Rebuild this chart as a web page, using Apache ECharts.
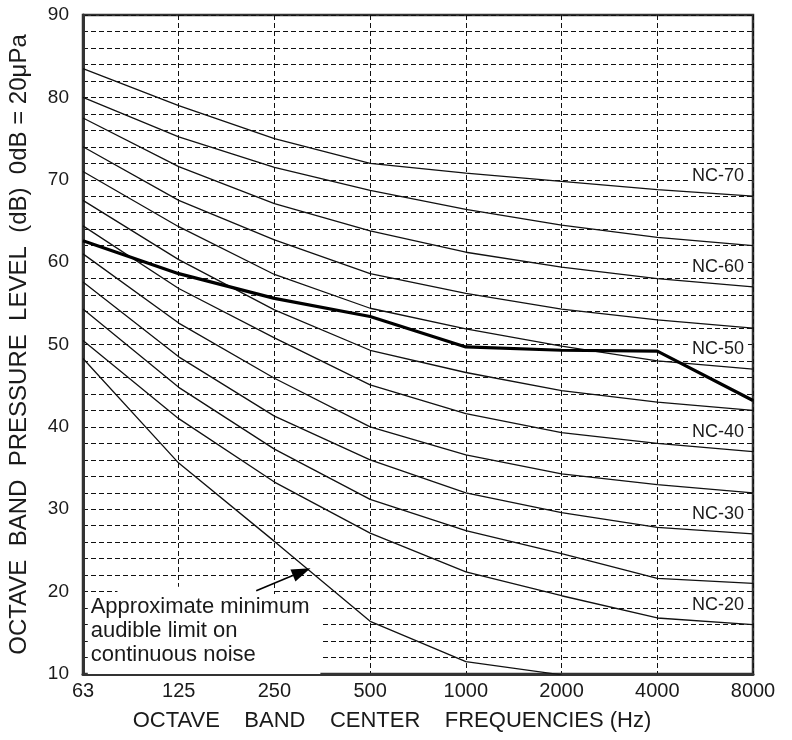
<!DOCTYPE html>
<html><head><meta charset="utf-8">
<script src="https://cdn.jsdelivr.net/npm/echarts@6/dist/echarts.min.js"></script>
<style>html,body{margin:0;padding:0;background:#fff}#c{width:792px;height:740px}</style>
</head><body><div id="c"></div>
<script>
// ---- data ----
const freqLabels = ['63','125','250','500','1000','2000','4000','8000'];
const nc70 = [83.5, 79.0, 75.0, 72.0, 70.8, 69.8, 68.8, 68.0];
const nc65 = [80.0, 75.2, 71.5, 68.7, 66.4, 64.5, 63.0, 62.0];
const nc60 = [77.5, 71.6, 67.1, 63.8, 61.2, 59.4, 58.0, 57.0];
const nc55 = [74.0, 67.5, 62.7, 58.6, 56.2, 54.3, 53.0, 52.0];
const nc50 = [71.0, 64.3, 58.5, 54.4, 51.9, 49.8, 48.0, 47.0];
const nc45 = [67.5, 60.3, 54.2, 49.3, 46.6, 44.4, 43.0, 42.0];
const nc40 = [64.4, 56.8, 50.8, 45.1, 41.6, 39.3, 38.0, 37.0];
const nc35 = [61.0, 52.6, 45.9, 40.0, 36.6, 34.3, 33.0, 32.0];
const nc30 = [57.6, 48.5, 41.3, 36.0, 32.0, 29.6, 27.8, 27.0];
const nc25 = [54.3, 44.8, 37.3, 31.2, 27.4, 24.6, 21.6, 21.0];
const nc20 = [50.5, 41.0, 33.3, 27.1, 22.4, 19.5, 16.8, 16.0];
const audible = [48.3, 35.6, 26.1, 16.4, 11.5, 9.9];
const measured = [62.6, 58.6, 55.6, 53.4, 49.7, 49.3, 49.2, 43.2];
const curveNames = ['NC-70','NC-65','NC-60','NC-55','NC-50','NC-45','NC-40','NC-35','NC-30','NC-25','NC-20'];
const curveValues = [nc70, nc65, nc60, nc55, nc50, nc45, nc40, nc35, nc30, nc25, nc20];
const labelledCurves = ['NC-70','NC-60','NC-50','NC-40','NC-30','NC-20'];
const noteLines = ['Approximate minimum', 'audible limit on', 'continuous noise'];
const arrowFrom = [1.81, 20.1];
const arrowTo = [2.285, 22.4];

const FONT = '"Liberation Sans", Arial, Helvetica, sans-serif';
const chart = echarts.init(document.getElementById('c'), null, {renderer: 'canvas'});

function pairs(vals) { return vals.map((v, i) => [i, v]); }

const series = curveValues.map((vals, k) => {
  const name = curveNames[k];
  const lab = labelledCurves.includes(name);
  const data = pairs(vals).map((p, i) => {
    if (lab && i === vals.length - 1) {
      return {value: p, label: {show: true, formatter: name, position: 'left', distance: 5,
        offset: [0, -20], fontSize: 18, fontFamily: FONT, color: '#1a1a1a',
        backgroundColor: '#fff', padding: [1, 4, 1, 4]}};
    }
    return p;
  });
  return {type: 'line', name, data, symbol: 'circle', symbolSize: 0.1, showSymbol: true,
    lineStyle: {color: '#111', width: 1.3}, itemStyle: {color: '#111'}, z: 3, silent: true};
});
series.push({type: 'line', name: 'audible', data: pairs(audible), symbol: 'none', clip: true,
  lineStyle: {color: '#111', width: 1.3}, z: 3, silent: true,
  markLine: {silent: true, symbol: ['none', 'triangle'], symbolSize: [13, 19],
    lineStyle: {color: '#000', width: 1.6, type: 'solid'}, label: {show: false},
    data: [[{coord: arrowFrom}, {coord: arrowTo}]]}});
series.push({type: 'line', name: 'measured', data: pairs(measured), symbol: 'none',
  lineStyle: {color: '#000', width: 3.2}, z: 4, silent: true});

const option = {
  animation: false,
  backgroundColor: '#fff',
  grid: {left: 83, right: 39, top: 15, bottom: 66, containLabel: false, outerBoundsMode: 'none',
    show: true, borderColor: '#333', borderWidth: 2.5},
  xAxis: {type: 'value', min: 0, max: 7, interval: 1,
    name: 'OCTAVE    BAND    CENTER    FREQUENCIES (Hz)', nameLocation: 'middle', nameGap: 36,
    nameTextStyle: {fontSize: 22, fontFamily: FONT, color: '#1a1a1a', padding: [0, 52, 0, 0]},
    axisLine: {show: true, lineStyle: {color: '#333', width: 3}},
    axisTick: {show: false},
    axisLabel: {formatter: v => freqLabels[v] || '', fontSize: 20, fontFamily: FONT, color: '#1a1a1a', margin: 7},
    splitLine: {show: true, lineStyle: {type: [5, 3], color: '#111', width: 1}}},
  yAxis: {type: 'value', min: 10, max: 90, interval: 2,
    name: 'OCTAVE  BAND  PRESSURE  LEVEL  (dB)  0dB = 20μPa', nameLocation: 'middle', nameGap: 52,
    nameTextStyle: {fontSize: 24, fontFamily: FONT, color: '#1a1a1a'},
    axisLine: {show: true, lineStyle: {color: '#333', width: 3}},
    axisTick: {show: false},
    axisLabel: {formatter: v => (v % 10 === 0 ? String(v) : ''), fontSize: 19, fontFamily: FONT, color: '#1a1a1a', margin: 14},
    splitLine: {show: true, lineStyle: {type: [5, 3], color: '#111', width: 1}}},
  series
};
chart.setOption(option);

// annotation box (data coordinates), drawn beneath the curves
const boxMain = [[0.05, 19.7], [2.48, 10]];
const boxNotch = [[0.36, 20.6], [1.99, 19.4]];
const noteX = 0.08;
const noteY = [18.2, 15.2, 12.3];
function rectFrom(c) {
  const a = chart.convertToPixel({gridIndex: 0}, c[0]);
  const b = chart.convertToPixel({gridIndex: 0}, c[1]);
  return {type: 'rect', z: 1, silent: true,
    shape: {x: a[0], y: a[1], width: b[0] - a[0], height: b[1] - a[1]},
    style: {fill: '#fff'}};
}
const graphics = [rectFrom(boxMain), rectFrom(boxNotch)];
noteLines.forEach((t, i) => {
  const p = chart.convertToPixel({gridIndex: 0}, [noteX, noteY[i]]);
  graphics.push({type: 'text', z: 5, silent: true, x: p[0], y: p[1],
    style: {text: t, fontSize: 22, fontFamily: FONT, fill: '#1a1a1a', verticalAlign: 'middle', align: 'left'}});
});
chart.setOption({graphic: graphics});
</script>
</body></html>
